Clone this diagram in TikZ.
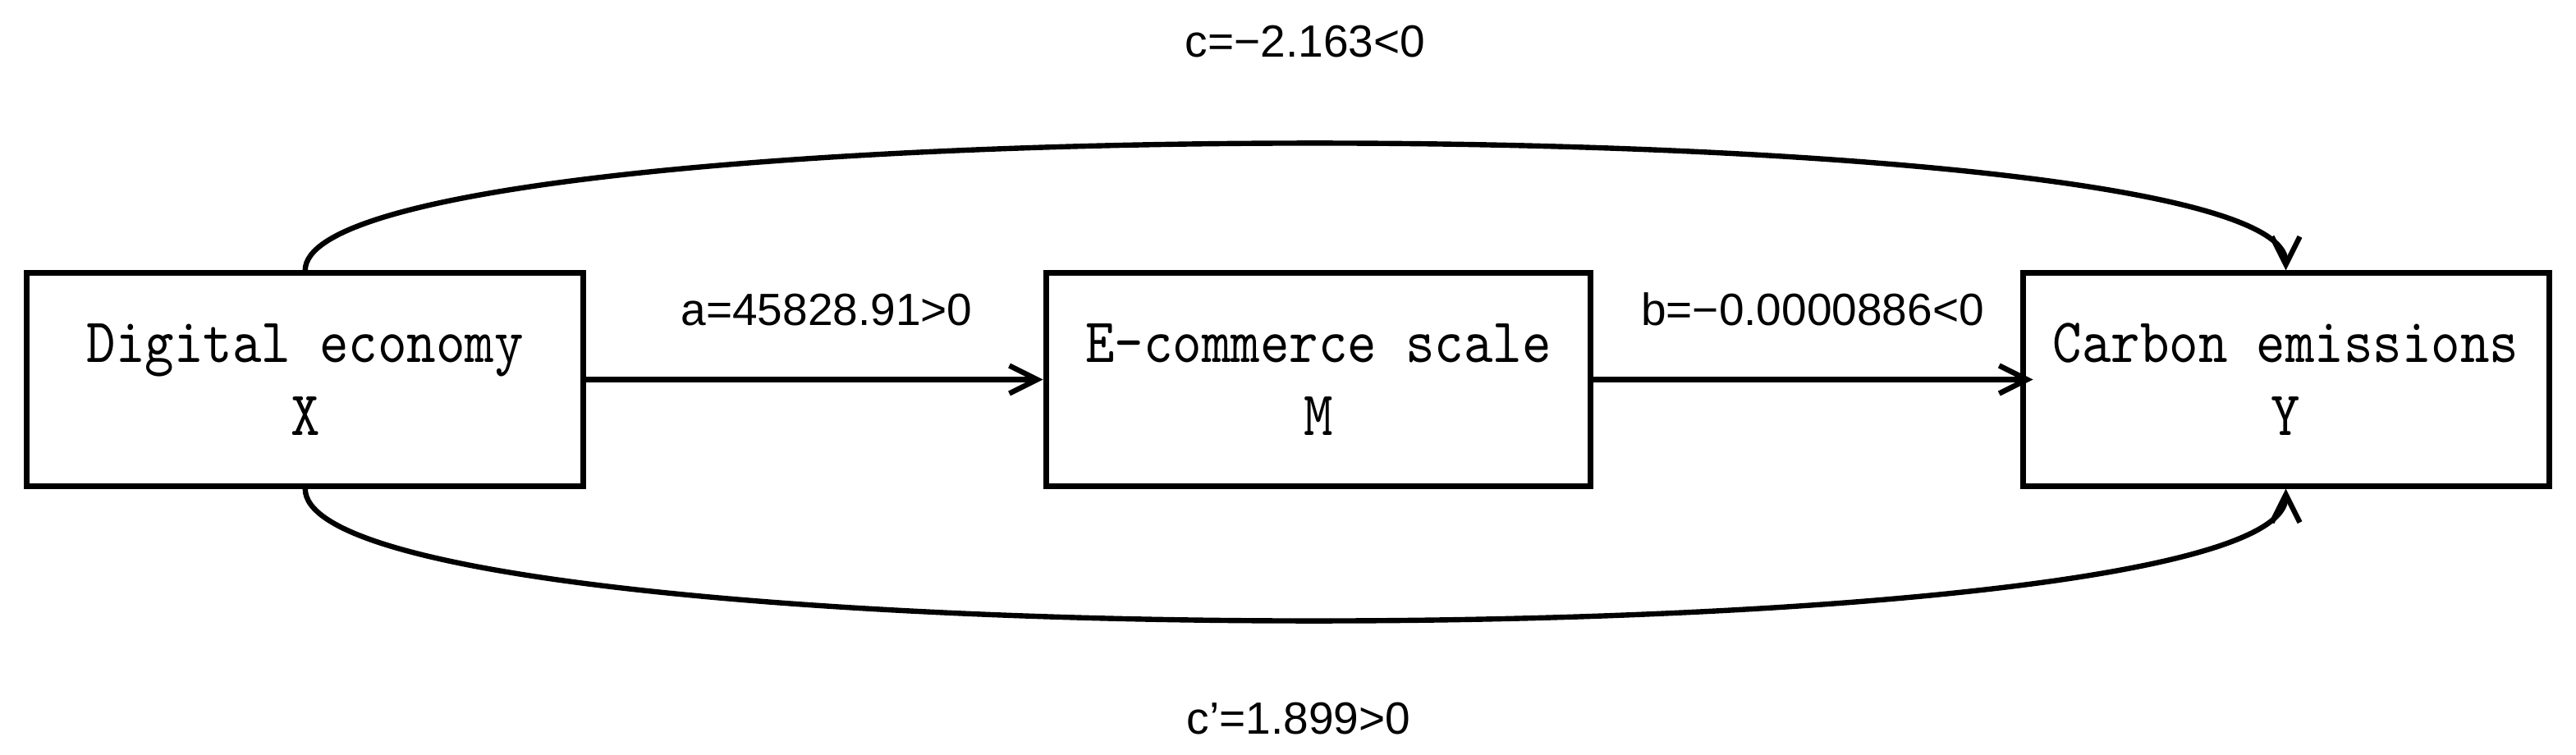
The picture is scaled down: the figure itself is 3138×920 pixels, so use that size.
\documentclass[tikz,border=0pt]{standalone}
\usepackage{fontspec}
\setmainfont{Liberation Sans}
\newfontfamily\boxfont{lmmono10-regular.otf}[FakeStretch=0.88]
\usetikzlibrary{arrows.meta}
\newcommand{\twolines}[2]{{\boxfont\fontsize{19.2pt}{22.25pt}\selectfont
  \begin{tabular}{@{}c@{}}\rule{0pt}{18.6pt}#1\\#2\end{tabular}}}
\begin{document}
\begin{tikzpicture}[x=0.25pt,y=-0.25pt,
  box/.style={draw, line width=1.75pt, inner sep=0pt, minimum height=64.75pt},
  lbl/.style={font=\fontsize{13.75}{16}\selectfont, anchor=base, inner sep=0pt},
  conn/.style={line width=1.6pt, -{Straight Barb[length=8.5pt,width=8.5pt]}}]
\useasboundingbox[fill=white] (0,0) rectangle (3138,920);
\node[box, minimum width=169.6pt] (X) at (371.75,462.5) {\twolines{Digital economy}{X}};
\node[box, minimum width=165.9pt] (M) at (1606,462.5) {\twolines{E-commerce scale}{M}};
\node[box, minimum width=160.25pt] (Y) at (2784.5,462.5) {\twolines{Carbon emissions}{Y}};
\draw[conn] (X.east) -- (M.west);
\draw[conn, shorten >=-4pt] (M.east) -- (Y.west);
\draw[conn] (X.north) .. controls +(0,-205) and +(0,-205) .. (Y.north);
\draw[conn] (X.south) .. controls +(0,213) and +(0,213) .. (Y.south);
\node[lbl] (la) at (1007,397) {a=45828.91>0};
\node[lbl] (lb) at (2208,397) {b=−0.0000886<0};
\node[lbl] (lc) at (1590,70) {c=−2.163<0};
\node[lbl] (lcp) at (1582,894) {c’=1.899>0};
\end{tikzpicture}
\end{document}
